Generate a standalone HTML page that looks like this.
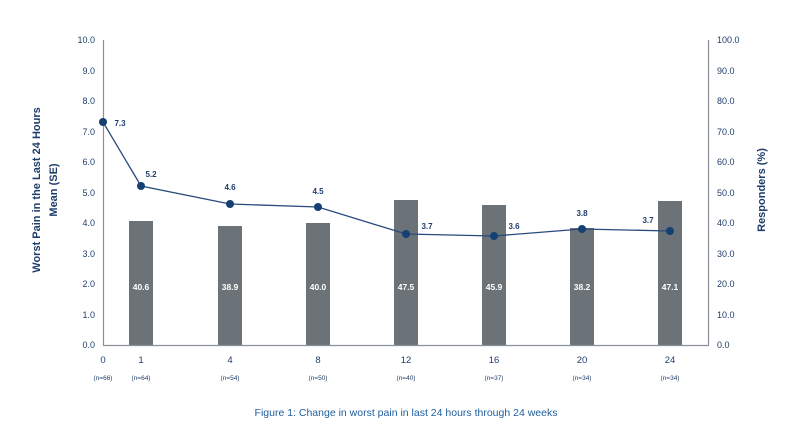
<!DOCTYPE html>
<html><head><meta charset="utf-8"><style>
body{margin:0;background:#fff;}
svg text{font-family:"Liberation Sans",sans-serif;}
</style></head><body>
<svg width="809" height="436" viewBox="0 0 809 436" xmlns="http://www.w3.org/2000/svg">
<g font-size="9" fill="#1f3d6b" text-anchor="end">
<text x="95" y="43">10.0</text><text x="95" y="74">9.0</text><text x="95" y="104">8.0</text>
<text x="95" y="135">7.0</text><text x="95" y="165">6.0</text><text x="95" y="196">5.0</text>
<text x="95" y="226">4.0</text><text x="95" y="257">3.0</text><text x="95" y="287">2.0</text>
<text x="95" y="318">1.0</text><text x="95" y="348">0.0</text>
</g>
<g font-size="9" fill="#1f3d6b" text-anchor="start">
<text x="717" y="43">100.0</text><text x="717" y="74">90.0</text><text x="717" y="104">80.0</text>
<text x="717" y="135">70.0</text><text x="717" y="165">60.0</text><text x="717" y="196">50.0</text>
<text x="717" y="226">40.0</text><text x="717" y="257">30.0</text><text x="717" y="287">20.0</text>
<text x="717" y="318">10.0</text><text x="717" y="348">0.0</text>
</g>
<text transform="translate(40,190) rotate(-90)" font-size="11" font-weight="bold" fill="#1f3d6b" text-anchor="middle">Worst Pain in the Last 24 Hours</text>
<text transform="translate(57,190) rotate(-90)" font-size="11" font-weight="bold" fill="#1f3d6b" text-anchor="middle">Mean (SE)</text>
<text transform="translate(765,190) rotate(-90)" font-size="11" font-weight="bold" fill="#1f3d6b" text-anchor="middle">Responders (%)</text>
<g fill="#6b7378">
<rect x="129" y="221" width="24" height="124"/>
<rect x="218" y="226" width="24" height="119"/>
<rect x="306" y="223" width="24" height="122"/>
<rect x="394" y="200" width="24" height="145"/>
<rect x="482" y="205" width="24" height="140"/>
<rect x="570" y="228" width="24" height="117"/>
<rect x="658" y="201" width="24" height="144"/>
</g>
<g font-size="8.5" font-weight="bold" fill="#fff" text-anchor="middle">
<text x="141" y="290">40.6</text><text x="230" y="290">38.9</text><text x="318" y="290">40.0</text>
<text x="406" y="290">47.5</text><text x="494" y="290">45.9</text><text x="582" y="290">38.2</text><text x="670" y="290">47.1</text>
</g>
<line x1="103.5" y1="40" x2="103.5" y2="345" stroke="#8a9096" stroke-width="1.2"/>
<line x1="708.5" y1="40" x2="708.5" y2="345" stroke="#8a9096" stroke-width="1.2"/>
<line x1="103" y1="345.5" x2="709" y2="345.5" stroke="#8a9096" stroke-width="1.2"/>
<polyline fill="none" stroke="#2a4a7e" stroke-width="1.3" points="103,122 141,186 230,204 318,207 406,234 494,236 582,229 670,231"/>
<g fill="#163f73">
<circle cx="103" cy="122" r="4"/><circle cx="141" cy="186" r="4"/><circle cx="230" cy="204" r="4"/>
<circle cx="318" cy="207" r="4"/><circle cx="406" cy="234" r="4"/><circle cx="494" cy="236" r="4"/>
<circle cx="582" cy="229" r="4"/><circle cx="670" cy="231" r="4"/>
</g>
<g font-size="8" font-weight="bold" fill="#1f3d6b" text-anchor="middle">
<text x="120" y="126">7.3</text><text x="151" y="177">5.2</text><text x="230" y="190">4.6</text>
<text x="318" y="194">4.5</text><text x="427" y="229">3.7</text><text x="514" y="229">3.6</text>
<text x="582" y="216">3.8</text><text x="648" y="223">3.7</text>
</g>
<g font-size="9.5" fill="#1f3d6b" text-anchor="middle">
<text x="103" y="363">0</text><text x="141" y="363">1</text><text x="230" y="363">4</text><text x="318" y="363">8</text>
<text x="406" y="363">12</text><text x="494" y="363">16</text><text x="582" y="363">20</text><text x="670" y="363">24</text>
</g>
<g font-size="6.5" fill="#1f3d6b" text-anchor="middle">
<text x="103" y="380">(n=66)</text><text x="141" y="380">(n=64)</text><text x="230" y="380">(n=54)</text><text x="318" y="380">(n=50)</text>
<text x="406" y="380">(n=40)</text><text x="494" y="380">(n=37)</text><text x="582" y="380">(n=34)</text><text x="670" y="380">(n=34)</text>
</g>
<text x="406" y="416" font-size="10.5" fill="#1f5fa0" text-anchor="middle">Figure 1: Change in worst pain in last 24 hours through 24 weeks</text>
</svg>
</body></html>
